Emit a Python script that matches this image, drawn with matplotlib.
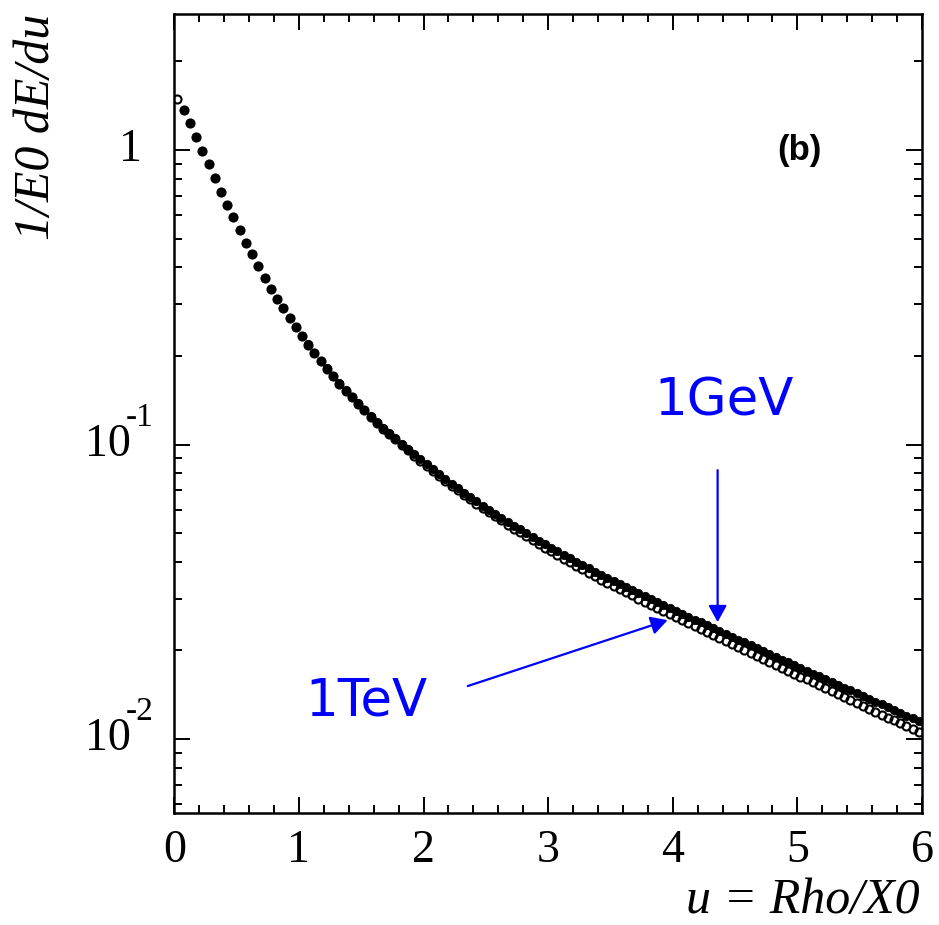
import numpy as np
import matplotlib
matplotlib.use("Agg")
import matplotlib.pyplot as plt
from matplotlib.ticker import MultipleLocator, LogLocator, NullFormatter
from matplotlib.transforms import blended_transform_factory
from matplotlib.patches import ArrowStyle

plt.rcParams["font.serif"] = ["Liberation Serif", "Tinos", "Nimbus Roman",
                              "Times New Roman", "DejaVu Serif"]
plt.rcParams["font.sans-serif"] = ["Liberation Sans", "Arimo", "DejaVu Sans"]

# Bin centres of the lateral profile, u = Rho/X0 (bin width 0.05)
u_1tev = [round(0.025 + 0.05 * i, 3) for i in range(120)]
u_1gev = u_1tev[1:]

# 1/E0 dE/du for a 1 TeV shower (open circles)
dedu_1tev = [
    1.486, 1.367, 1.238, 1.104, 0.9945, 0.8942, 0.8016, 0.7219, 0.6521, 0.5909,
    0.5337, 0.4845, 0.4424, 0.4029, 0.3685, 0.3381, 0.3112, 0.2901, 0.2694, 0.2508,
    0.2339, 0.2187, 0.2049, 0.1925, 0.1810, 0.1707, 0.1612, 0.1525, 0.1446, 0.1373,
    0.1306, 0.1245, 0.1187, 0.1134, 0.1085, 0.1041, 0.09973, 0.09567, 0.09180, 0.08816,
    0.08472, 0.08147, 0.07835, 0.07541, 0.07263, 0.07001, 0.06754, 0.06520, 0.06300, 0.06091,
    0.05894, 0.05706, 0.05526, 0.05353, 0.05189, 0.05031, 0.04879, 0.04735, 0.04596, 0.04464,
    0.04336, 0.04213, 0.04095, 0.03982, 0.03875, 0.03771, 0.03671, 0.03576, 0.03483, 0.03395,
    0.03311, 0.03230, 0.03152, 0.03076, 0.03002, 0.02929, 0.02858, 0.02789, 0.02722, 0.02657,
    0.02596, 0.02536, 0.02478, 0.02421, 0.02366, 0.02311, 0.02257, 0.02205, 0.02155, 0.02105,
    0.02057, 0.02010, 0.01963, 0.01918, 0.01874, 0.01831, 0.01789, 0.01748, 0.01707, 0.01668,
    0.01630, 0.01594, 0.01558, 0.01523, 0.01488, 0.01455, 0.01422, 0.01390, 0.01358, 0.01328,
    0.01298, 0.01268, 0.01240, 0.01212, 0.01184, 0.01157, 0.01131, 0.01106, 0.01081, 0.01056,
]

# 1/E0 dE/du for a 1 GeV shower (filled dots)
dedu_1gev = [
    1.367, 1.238, 1.104, 0.9945, 0.8942, 0.8016, 0.7219, 0.6521, 0.5909,
    0.5337, 0.4845, 0.4424, 0.4029, 0.3685, 0.3381, 0.3112, 0.2901, 0.2694, 0.2508,
    0.2340, 0.2189, 0.2052, 0.1929, 0.1815, 0.1712, 0.1618, 0.1532, 0.1453, 0.1381,
    0.1314, 0.1253, 0.1196, 0.1143, 0.1094, 0.1050, 0.1007, 0.09665, 0.09280, 0.08917,
    0.08575, 0.08253, 0.07943, 0.07651, 0.07375, 0.07114, 0.06868, 0.06636, 0.06417, 0.06209,
    0.06013, 0.05826, 0.05646, 0.05474, 0.05310, 0.05152, 0.05001, 0.04857, 0.04718, 0.04586,
    0.04458, 0.04336, 0.04219, 0.04107, 0.04000, 0.03896, 0.03797, 0.03702, 0.03610, 0.03522,
    0.03438, 0.03357, 0.03279, 0.03203, 0.03129, 0.03056, 0.02985, 0.02916, 0.02849, 0.02783,
    0.02722, 0.02662, 0.02603, 0.02546, 0.02490, 0.02435, 0.02381, 0.02328, 0.02277, 0.02227,
    0.02178, 0.02130, 0.02083, 0.02037, 0.01992, 0.01948, 0.01905, 0.01863, 0.01822, 0.01782,
    0.01743, 0.01706, 0.01669, 0.01633, 0.01597, 0.01563, 0.01529, 0.01496, 0.01463, 0.01432,
    0.01401, 0.01370, 0.01341, 0.01312, 0.01283, 0.01255, 0.01228, 0.01202, 0.01176, 0.01150,
]

y_ticks = [1.0, 0.1, 0.01]
y_tick_base = ["1", "10", "10"]
y_tick_exp = ["", "-1", "-2"]
x_ticks = [0, 1, 2, 3, 4, 5, 6]

fig = plt.figure(figsize=(9.39, 9.25), dpi=100)
ax = fig.add_axes([0.1856, 0.1208, 0.7963, 0.8641])

ax.plot(u_1gev, dedu_1gev, linestyle="none", marker="o", markersize=6.0,
        markerfacecolor="black", markeredgecolor="black", markeredgewidth=0.6, zorder=3)
ax.plot(u_1tev, dedu_1tev, linestyle="none", marker="o", markersize=5.8,
        markerfacecolor="none", markeredgecolor="black", markeredgewidth=1.5, zorder=4)

ax.set_yscale("log")
ax.set_xlim(0, 6)
ax.set_ylim(0.0056, 2.9)

for side in ax.spines.values():
    side.set_linewidth(1.8)

ax.xaxis.set_major_locator(MultipleLocator(1))
ax.xaxis.set_minor_locator(MultipleLocator(0.2))
ax.yaxis.set_major_locator(LogLocator(base=10, numticks=10))
ax.yaxis.set_minor_locator(LogLocator(base=10, subs=np.arange(2, 10), numticks=20))
ax.yaxis.set_major_formatter(NullFormatter())
ax.yaxis.set_minor_formatter(NullFormatter())
ax.set_xticks(x_ticks)
ax.set_xticklabels([str(t) for t in x_ticks], family="serif", fontsize=33)

ax.tick_params(which="both", direction="in", top=True, right=True, width=1.4, color="black")
ax.tick_params(which="major", length=11.5)
ax.tick_params(which="minor", length=5.8)
ax.tick_params(axis="x", which="major", pad=12)

# ROOT-style decade labels on the y axis
ytr = blended_transform_factory(fig.transFigure, ax.transData)
for val, base, ex in zip(y_ticks, y_tick_base, y_tick_exp):
    if ex:
        ax.text(131 / 939, val, base, transform=ytr, ha="right", va="center",
                family="serif", fontsize=33)
        ax.text(126 / 939, val * 10 ** (27 / 294.5), ex, transform=ytr, ha="left",
                va="center", family="serif", fontsize=24)
    else:
        ax.text(142 / 939, val, base, transform=ytr, ha="right", va="center",
                family="serif", fontsize=33)

fig.text(920 / 939, 1 - 913 / 925, "u = Rho/X0", ha="right", va="baseline",
         family="serif", fontstyle="italic", fontsize=36)
fig.text(13 / 939, 1 - 14 / 925, "1/E0 dE/du", ha="left", va="top", rotation=90,
         family="serif", fontstyle="italic", fontsize=36)

ax.text(5.02, 1.0, "(b)", ha="center", va="center", family="sans-serif",
        fontweight="bold", fontsize=25)

head = ArrowStyle("-|>", head_length=0.4, head_width=0.22)
ax.text(3.855, 0.126, "1GeV", color="blue", family="DejaVu Sans", fontsize=37,
        ha="left", va="baseline")
ax.annotate("", xy=(4.36, 0.02496), xytext=(4.36, 0.0819),
            arrowprops=dict(arrowstyle=head, color="blue", lw=1.6,
                            mutation_scale=25, shrinkA=0, shrinkB=0))
ax.text(1.048, 0.01207, "1TeV", color="blue", family="DejaVu Sans", fontsize=37,
        ha="left", va="baseline")
ax.annotate("", xy=(3.959, 0.02535), xytext=(2.355, 0.01514),
            arrowprops=dict(arrowstyle=head, color="blue", lw=1.6,
                            mutation_scale=25, shrinkA=0, shrinkB=0))

fig.savefig("out.png", dpi=100)
